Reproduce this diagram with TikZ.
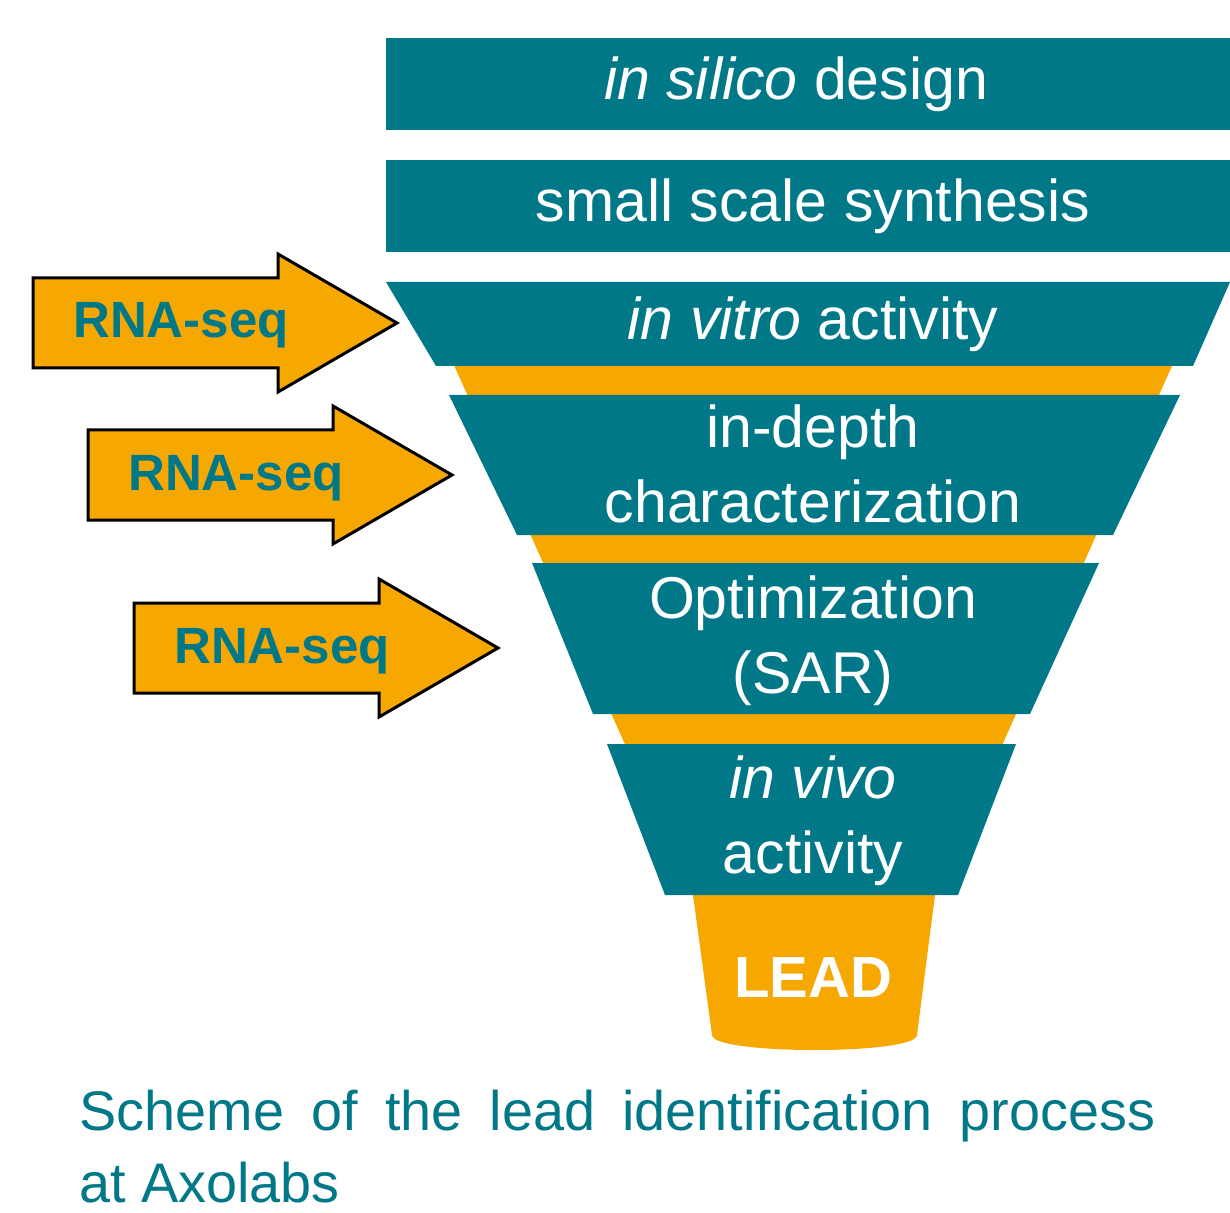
\documentclass[tikz,border=0pt]{standalone}
\usepackage{fontspec}
\setmainfont{Liberation Sans}
\definecolor{axoteal}{RGB}{0,120,136}
\definecolor{axoorange}{RGB}{247,168,0}

\begin{document}
\begin{tikzpicture}[
        x=0.5pt,
        y=-0.5pt,
        stage/.style={
            fill=axoteal,
        },
        funnel/.style={
            fill=axoorange,
        },
        stagetext/.style={
            text=white,
            inner sep=0pt,
            align=center,
            font=\fontsize{29.5}{37.5}\selectfont,
        },
        leadtext/.style={
            text=white,
            inner sep=0pt,
            font=\fontsize{29}{35}\selectfont\bfseries,
        },
        seqarrow/.style={
            fill=axoorange,
            draw=black,
            line width=1.5pt,
            line join=miter,
        },
        seqtext/.style={
            text=axoteal,
            inner sep=0pt,
            font=\fontsize{25.5}{30}\selectfont\bfseries,
        },
        caption/.style={
            text=axoteal,
            inner sep=0pt,
            text width=538pt,
            align=justify,
            font=\fontsize{27.9}{36}\selectfont,
        },
    ]
        \useasboundingbox (0,0) rectangle (1230,1213);

        % orange funnel and lead cup behind the stages
        \fill[funnel] (420,290) -- (1206,290) -- (935,895) -- (917,1035)
            .. controls (917,1055) and (712,1055) .. (712,1035) -- (693,895) -- cycle;

        \fill[stage] (386,38) rectangle (1230,130);
        \fill[stage] (386,160) rectangle (1230,252);
        \fill[stage] (386,282) -- (1230,282) -- (1193,366) -- (436,366) -- cycle;
        \fill[stage] (449,395) -- (1180,395) -- (1113,535) -- (517,535) -- cycle;
        \fill[stage] (532,563) -- (1099,563) -- (1030,714) -- (593,714) -- cycle;
        \fill[stage] (607,744) -- (1016,744) -- (958,895) -- (665,895) -- cycle;

        \node[stagetext, anchor=base] (silico) at (796,100) {\textit{in silico} design};
        \node[stagetext, anchor=base] (synth) at (813,222) {small scale synthesis};
        \node[stagetext, anchor=base] (vitro) at (813,340) {\textit{in vitro} activity};
        \node[stagetext, anchor=base] (depth) at (813,523) {in-depth\\characterization};
        \node[stagetext, anchor=base] (optim) at (813,693) {Optimization\\(SAR)};
        \node[stagetext, anchor=base] (vivo) at (813,873) {\textit{in vivo}\\activity};
        \node[leadtext, anchor=base] (lead) at (813,997) {LEAD};

        \foreach \i/\dx/\dy in {1/0/0, 2/55/152, 3/101/325} {
            \draw[seqarrow, shift={(\dx,\dy)}] (33,278) -- (278,278) -- (278,254)
                -- (397,323) -- (278,392) -- (278,368) -- (33,368) -- cycle;
            \node[seqtext, anchor=base] (seq\i) at (181+\dx,338+\dy) {RNA-seq};
        }

        \node[caption, anchor=base west] (scheme) at (79,1130)
            {Scheme of the lead identification process\linebreak at Axolabs};
    \end{tikzpicture}
\end{document}
